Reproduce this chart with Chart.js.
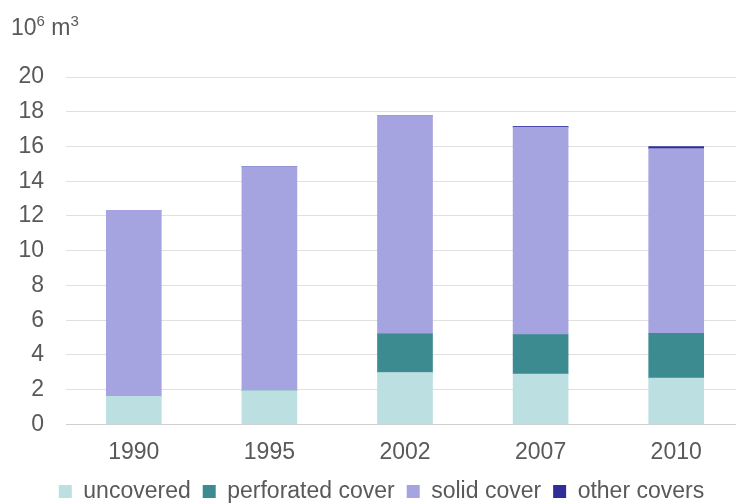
<!DOCTYPE html>
<html>
<head>
<meta charset="utf-8">
<script src="https://cdn.jsdelivr.net/npm/chart.js@4"></script>
<style>
  html, body { margin: 0; padding: 0; background: #fff; overflow: hidden; }
  #wrap { position: relative; width: 736px; height: 504px; overflow: hidden; }
  #box { position: absolute; left: 0; top: 0; width: 744px; height: 504px; }
  #unit {
    position: absolute; left: 11px; top: 14px;
    font-family: "Liberation Sans", Arial, sans-serif; font-size: 23px; color: #595959;
  }
  #unit sup { font-size: 15px; vertical-align: 9px; line-height: 0; }
</style>
</head>
<body>
<div id="wrap">
  <div id="box"><canvas id="myChart"></canvas></div>
  <div id="unit">10<sup>6</sup> m<sup>3</sup></div>
</div>
<script>
const years = ["1990", "1995", "2002", "2007", "2010"];
const uncovered = [1.62, 1.94, 2.99, 2.90, 2.66];
const perforated = [0, 0, 2.22, 2.27, 2.59];
const solid = [10.71, 12.90, 12.56, 11.94, 10.63];
const other = [0, 0, 0, 0.05, 0.12];
const yTicks = [0, 2, 4, 6, 8, 10, 12, 14, 16, 18, 20];

const font = { family: "'Liberation Sans', Arial, sans-serif", size: 23 };
const textColor = "#595959";

const ctx = document.getElementById("myChart").getContext("2d");
new Chart(ctx, {
  type: "bar",
  data: {
    labels: years,
    datasets: [
      { label: "uncovered", data: uncovered, backgroundColor: "#bce0e2" },
      { label: "perforated cover", data: perforated, backgroundColor: "#3c8b90" },
      { label: "solid cover", data: solid, backgroundColor: "#a5a3e0" },
      { label: "other covers", data: other, backgroundColor: "#2e2e98" },
    ],
  },
  options: {
    responsive: true,
    maintainAspectRatio: false,
    animation: false,
    datasets: { bar: { barThickness: 55 } },
    layout: { padding: { left: 19, top: 77, right: 0, bottom: -9 } },
    plugins: {
      tooltip: { enabled: false },
      legend: {
        position: "bottom",
        labels: {
          font: font,
          color: textColor,
          boxWidth: 13,
          boxHeight: 13,
          padding: 12,
        },
      },
    },
    scales: {
      x: {
        stacked: true,
        grid: { display: false, drawTicks: false },
        border: { display: true, color: "#d0d0d0", width: 1 },
        ticks: { font: font, color: textColor, padding: 14 },
        afterFit: (axis) => { axis.height -= 12; },
      },
      y: {
        stacked: true,
        min: 0,
        max: 20,
        afterBuildTicks: (axis) => { axis.ticks = yTicks.map((v) => ({ value: v })); },
        afterFit: (axis) => { axis.width = 47; },
        grid: { color: "#e0e0e0", lineWidth: 1, drawTicks: false },
        border: { display: false },
        ticks: { font: font, color: textColor, padding: 22 },
      },
    },
  },
});
</script>
</body>
</html>
